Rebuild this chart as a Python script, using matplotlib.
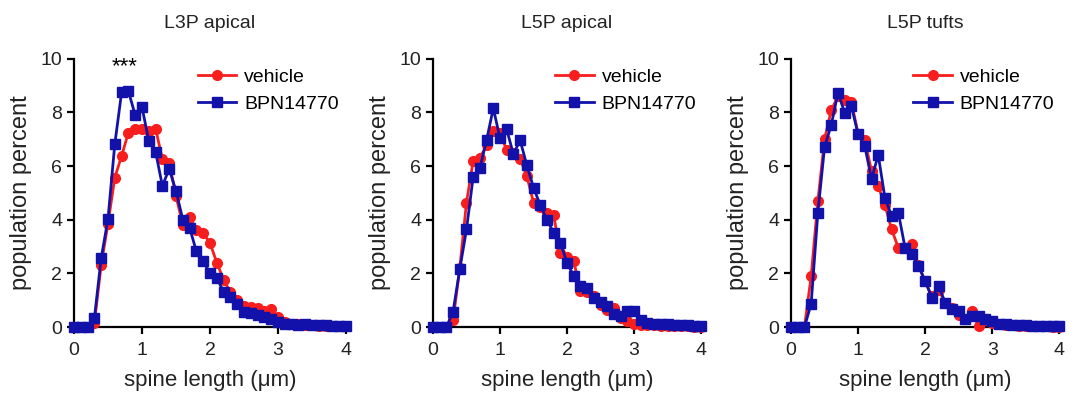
import numpy as np
import matplotlib
matplotlib.use('Agg')
import matplotlib.pyplot as plt

plt.rcParams['font.family'] = ['Liberation Sans', 'DejaVu Sans']

# spine length bins (um)
length = np.round(np.arange(0, 4.01, 0.1), 1)

titles = ['L3P apical', 'L5P apical', 'L5P tufts']

l3p_vehicle = [0, 0, 0, 0.15, 2.32, 3.86, 5.57, 6.38, 7.25, 7.38, 7.38, 7.3, 7.4, 6.25, 6.13,
               4.88, 3.82, 4.1, 3.63, 3.5, 3.13, 2.4, 1.76, 1.3, 1.0, 0.8, 0.76, 0.7, 0.6, 0.66,
               0.39, 0.2, 0.12, 0.1, 0.08, 0.06, 0.05, 0.05, 0.04, 0.03, 0.03]
l3p_bpn = [0, 0, 0, 0.33, 2.57, 4.03, 6.82, 8.75, 8.8, 7.9, 8.2, 6.94, 6.53, 5.26, 5.9,
           5.07, 4.01, 3.7, 2.82, 2.45, 2.01, 1.82, 1.32, 1.13, 0.86, 0.57, 0.51, 0.45, 0.39, 0.3,
           0.2, 0.12, 0.1, 0.08, 0.1, 0.08, 0.06, 0.07, 0.05, 0.04, 0.04]

l5p_vehicle = [0, 0, 0, 0.25, 2.2, 4.64, 6.2, 6.3, 6.79, 7.31, 7.25, 6.59, 6.5, 6.27, 5.63,
               4.64, 4.46, 4.27, 4.18, 2.77, 2.6, 2.46, 1.34, 1.3, 1.15, 0.84, 0.65, 0.72, 0.35, 0.22,
               0.1, 0.08, 0.06, 0.06, 0.05, 0.05, 0.04, 0.03, 0.03, 0.02, 0.02]
l5p_bpn = [0, 0, 0, 0.57, 2.15, 3.64, 5.6, 5.92, 6.97, 8.16, 7.04, 7.37, 6.44, 6.97, 6.03,
           5.2, 4.55, 4.0, 3.52, 3.15, 2.4, 1.9, 1.53, 1.44, 1.09, 0.94, 0.78, 0.47, 0.41, 0.6,
           0.6, 0.25, 0.15, 0.12, 0.12, 0.1, 0.08, 0.06, 0.06, 0.05, 0.05]

tuft_vehicle = [0, 0, 0, 1.9, 4.7, 7.0, 8.09, 8.6, 8.45, 8.4, 7.2, 6.97, 5.82, 5.26, 4.55,
                3.64, 2.96, 2.96, 3.11, 2.3, 1.7, 1.15, 1.4, 0.9, 0.7, 0.45, 0.3, 0.6, 0.04, 0.25,
                0.15, 0.1, 0.08, 0.06, 0.05, 0.05, 0.04, 0.03, 0.03, 0.02, 0.02]
tuft_bpn = [0, 0, 0, 0.87, 4.27, 6.72, 7.54, 8.74, 7.99, 8.24, 7.19, 6.75, 5.51, 6.42, 4.82,
            4.14, 4.27, 2.96, 2.71, 2.28, 1.72, 1.09, 1.53, 0.91, 0.66, 0.6, 0.29, 0.41, 0.41, 0.29,
            0.22, 0.12, 0.1, 0.08, 0.06, 0.06, 0.05, 0.04, 0.04, 0.03, 0.04]

vehicle = [l3p_vehicle, l5p_vehicle, tuft_vehicle]
bpn = [l3p_bpn, l5p_bpn, tuft_bpn]

red = '#f81e1e'
blue = '#1212aa'

fig = plt.figure(figsize=(10.77, 3.95), dpi=100)
lefts = [0.0687, 0.402, 0.7345]
widths = [0.2526, 0.249, 0.249]

for i in range(3):
    ax = fig.add_axes([lefts[i], 0.172, widths[i], 0.679])
    ax.plot(length, vehicle[i], color=red, lw=2, marker='o', markersize=7,
            label='vehicle', clip_on=False, zorder=3)
    ax.plot(length, bpn[i], color=blue, lw=2, marker='s', markersize=7.5,
            label='BPN14770', clip_on=False, zorder=4)
    ax.set_xlim(0, 4)
    ax.set_ylim(0, 10)
    ax.set_xticks([0, 1, 2, 3, 4])
    ax.set_yticks([0, 2, 4, 6, 8, 10])
    for s in ['top', 'right']:
        ax.spines[s].set_visible(False)
    for s in ['left', 'bottom']:
        ax.spines[s].set_linewidth(1.6)
    ax.tick_params(direction='out', length=5, width=1.6, labelsize=14, colors='black',
                   labelcolor='#222222')
    ax.tick_params(axis='x', pad=6)
    ax.set_xlabel('spine length (\u03bcm)', fontsize=16, color='#222222', labelpad=8)
    ax.set_ylabel('population percent', fontsize=17, color='#222222', labelpad=6)
    ax.set_title(titles[i], fontsize=14, pad=22, color='#222222')
    ax.legend(loc='upper left', bbox_to_anchor=(0.39, 1.03), frameon=False, fontsize=14,
              handlelength=2.0, handletextpad=0.4, labelspacing=0.5)
    if i == 0:
        ax.text(0.75, 9.7, '***', fontsize=16, ha='center', va='center')

fig.savefig('out.png', dpi=100)
